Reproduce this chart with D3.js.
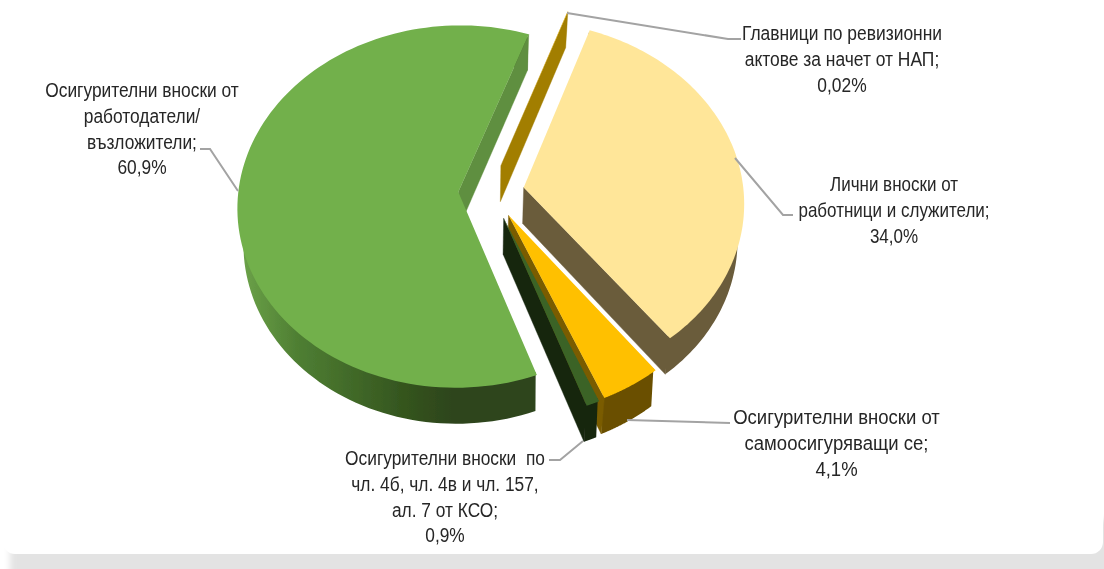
<!DOCTYPE html>
<html><head><meta charset="utf-8">
<script src="https://cdn.jsdelivr.net/npm/d3@7/dist/d3.min.js"></script>
<style>html,body{margin:0;padding:0;background:#fff}svg{display:block}</style>
</head><body><svg id="c" width="1104" height="569"></svg>
<script>
const categories = ["Осигурителни вноски от работодатели/ възложители","Главници по ревизионни актове за начет от НАП","Лични вноски от работници и служители","Осигурителни вноски от самоосигуряващи се","Осигурителни вноски по чл. 4б, чл. 4в и чл. 157, ал. 7 от КСО"];
const values = [60.9, 0.02, 34.0, 4.1, 0.9];
const valueLabels = ["60,9%","0,02%","34,0%","4,1%","0,9%"];
const labelLines = [
 ["Осигурителни вноски от","работодатели/","възложители;","60,9%"],
 ["Главници по ревизионни","актове за начет от НАП;","0,02%"],
 ["Лични вноски от","работници и служители;","34,0%"],
 ["Осигурителни вноски от","самоосигуряващи се;","4,1%"],
 ["Осигурителни вноски  по","чл. 4б, чл. 4в и чл. 157,","ал. 7 от КСО;","0,9%"]
];
const topColors = ["#72B04C","#FFC000","#FFE699","#FFC000","#3A6326"];
const endWallColors = ["#5F8F3F","#A27E00","#6B5C3B","#7A5C00","#16260F"];
const outerWallColors = ["url(#gw)","#A27E00","#6B5C3B","#6A5000","#16260F"];
const explode = [0.135,0.163,0.16,0.155,0.155];
const nudge = [[0,0],[1,1],[1,0],[3,-1],[3,0]];
const labelPos = [[142,97],[842,40],[894,191],[836.5,424],[445,465]];
const labelScaleX = [0.827,0.83,0.81,0.883,0.825];
const leaders = [
 [[238,191],[210,149],[200,149]],
 [[567,13],[728,39],[741,39]],
 [[735,158],[783,215],[793,215]],
 [[627,420],[730,423]],
 [[583,441],[560,460],[549,460]]
];
const drawOrder = [1,2,0,3,4];

const cx=488, cy=192, rx=220, ry=180, k=0.08, depth=36, vx=480, shrink=0.975;
const rad=Math.PI/180;
const svg=d3.select("#c");
const defs=svg.append("defs");
const gw=defs.append("linearGradient").attr("id","gw").attr("gradientUnits","userSpaceOnUse")
  .attr("x1",237).attr("x2",535).attr("y1",0).attr("y2",0);
[[0,"#6EA54B"],[0.2,"#4F7F33"],[0.55,"#35561F"],[0.72,"#2D451C"],[1,"#2D451C"]].forEach(s=>gw.append("stop").attr("offset",s[0]).attr("stop-color",s[1]));
const sh=defs.append("filter").attr("id","blur").attr("filterUnits","userSpaceOnUse").attr("x",-20).attr("y",500).attr("width",1400).attr("height",200);
sh.append("feGaussianBlur").attr("stdDeviation",3);
const sf=defs.append("filter").attr("id","soft").attr("filterUnits","userSpaceOnUse").attr("x",0).attr("y",0).attr("width",1104).attr("height",569);
sf.append("feGaussianBlur").attr("stdDeviation",0.45);

// card
svg.append("rect").attr("x",10).attr("y",520).attr("width",1300).attr("height",150).attr("fill","#E3E3E3").attr("filter","url(#blur)");
svg.append("rect").attr("x",3).attr("y",-20).attr("width",1100).attr("height",574).attr("rx",12).attr("fill","#fff");

const pieGen=d3.pie().sort(null).startAngle(160.1*rad).endAngle(520.1*rad);
const arcs=pieGen(values);
function proj(X,Y){const w=1+k*Y;return [cx+rx*X/w,cy-ry*Y/w];}
function low(p){return [vx+(p[0]-vx)*shrink,p[1]+depth];}
const line=d3.line();
const g=svg.append("g").attr("filter","url(#soft)");
drawOrder.forEach(i=>{
  const a=arcs[i], mid=(a.startAngle+a.endAngle)/2, e=explode[i];
  const ox=e*Math.sin(mid), oy=e*Math.cos(mid);
  const n=p=>[p[0]+nudge[i][0],p[1]+nudge[i][1]];
  const apex=n(proj(ox,oy));
  const rim=d3.range(0,121).map(j=>{
    const t=a.startAngle+(a.endAngle-a.startAngle)*j/120;
    return n(proj(ox+Math.sin(t),oy+Math.cos(t)));
  });
  const sg=g.append("g").attr("class","slice");
  // outer wall: its upper edge sits just inside the top face so no fringe shows
  const inner=rim.map(p=>[apex[0]+(p[0]-apex[0])*0.985,apex[1]+(p[1]-apex[1])*0.985]);
  const lower=rim.map(low);
  sg.append("path").attr("d",line(inner.concat(lower.slice().reverse()))+"Z").attr("fill",outerWallColors[i]);
  // end-edge wall
  const c=rim[rim.length-1];
  sg.append("path").attr("d",line([apex,c,low(c),low(apex)])+"Z").attr("fill",endWallColors[i]).attr("stroke",endWallColors[i]).attr("stroke-width",0.4);
  // top
  sg.append("path").attr("d",line([apex].concat(rim))+"Z").attr("fill",topColors[i]);
});

const lg=svg.append("g").attr("filter","url(#soft)");
leaders.forEach(l=>lg.append("path").attr("d",line(l)).attr("fill","none").attr("stroke","#A3A3A3").attr("stroke-width",2));

const fs=21, lh=25.8;
labelLines.forEach((ls,i)=>{
  const t=lg.append("text").attr("text-anchor","middle")
    .attr("transform",`translate(${labelPos[i][0]},${labelPos[i][1]}) scale(${labelScaleX[i]},1)`)
    .attr("font-family","'Liberation Sans',Arial,sans-serif")
    .attr("font-size",fs).attr("fill","#262626");
  ls.forEach((s,j)=>t.append("tspan").attr("x",0).attr("y",j*lh).style("white-space","pre").text(s));
});
</script></body></html>
